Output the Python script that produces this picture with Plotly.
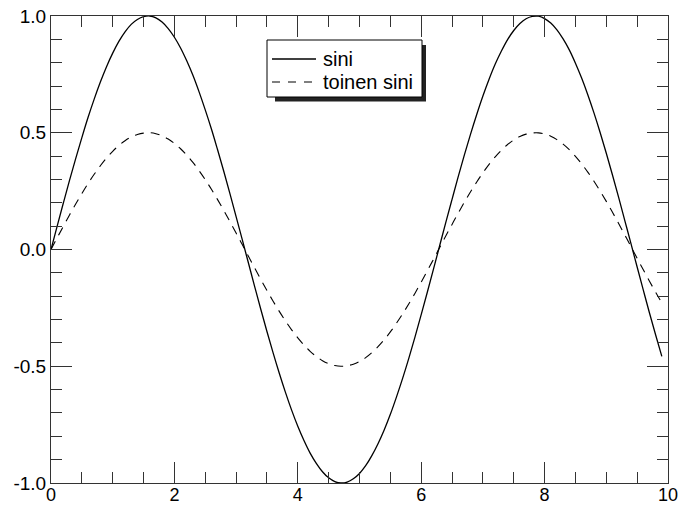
import plotly.graph_objects as go

x = [0.0, 0.1, 0.2, 0.3, 0.4, 0.5, 0.6, 0.7, 0.8, 0.9,
     1.0, 1.1, 1.2, 1.3, 1.4, 1.5, 1.6, 1.7, 1.8, 1.9,
     2.0, 2.1, 2.2, 2.3, 2.4, 2.5, 2.6, 2.7, 2.8, 2.9,
     3.0, 3.1, 3.2, 3.3, 3.4, 3.5, 3.6, 3.7, 3.8, 3.9,
     4.0, 4.1, 4.2, 4.3, 4.4, 4.5, 4.6, 4.7, 4.8, 4.9,
     5.0, 5.1, 5.2, 5.3, 5.4, 5.5, 5.6, 5.7, 5.8, 5.9,
     6.0, 6.1, 6.2, 6.3, 6.4, 6.5, 6.6, 6.7, 6.8, 6.9,
     7.0, 7.1, 7.2, 7.3, 7.4, 7.5, 7.6, 7.7, 7.8, 7.9,
     8.0, 8.1, 8.2, 8.3, 8.4, 8.5, 8.6, 8.7, 8.8, 8.9,
     9.0, 9.1, 9.2, 9.3, 9.4, 9.5, 9.6, 9.7, 9.8, 9.9]

sini = [0.000, 0.100, 0.199, 0.296, 0.389, 0.479, 0.565, 0.644, 0.717, 0.783,
        0.841, 0.891, 0.932, 0.964, 0.985, 0.997, 1.000, 0.992, 0.974, 0.946,
        0.909, 0.863, 0.808, 0.746, 0.675, 0.598, 0.516, 0.427, 0.335, 0.239,
        0.141, 0.042, -0.058, -0.158, -0.256, -0.351, -0.443, -0.530, -0.612, -0.688,
        -0.757, -0.818, -0.872, -0.916, -0.952, -0.978, -0.994, -1.000, -0.996, -0.982,
        -0.959, -0.926, -0.883, -0.832, -0.773, -0.706, -0.631, -0.551, -0.465, -0.374,
        -0.279, -0.182, -0.083, 0.017, 0.117, 0.215, 0.312, 0.405, 0.494, 0.578,
        0.657, 0.729, 0.794, 0.850, 0.899, 0.938, 0.968, 0.988, 0.998, 0.999,
        0.989, 0.970, 0.941, 0.902, 0.855, 0.798, 0.734, 0.663, 0.585, 0.501,
        0.412, 0.319, 0.223, 0.124, 0.025, -0.075, -0.174, -0.272, -0.366, -0.458]

toinen_sini = [0.000, 0.050, 0.0995, 0.148, 0.1945, 0.2395, 0.2825, 0.322, 0.3585, 0.3915,
               0.4205, 0.4455, 0.466, 0.482, 0.4925, 0.4985, 0.500, 0.496, 0.487, 0.473,
               0.4545, 0.4315, 0.404, 0.373, 0.3375, 0.299, 0.258, 0.2135, 0.1675, 0.1195,
               0.0705, 0.021, -0.029, -0.079, -0.128, -0.1755, -0.2215, -0.265, -0.306, -0.344,
               -0.3785, -0.409, -0.436, -0.458, -0.476, -0.489, -0.497, -0.500, -0.498, -0.491,
               -0.4795, -0.463, -0.4415, -0.416, -0.3865, -0.353, -0.3155, -0.2755, -0.2325, -0.187,
               -0.1395, -0.091, -0.0415, 0.0085, 0.0585, 0.1075, 0.156, 0.2025, 0.247, 0.289,
               0.3285, 0.3645, 0.397, 0.425, 0.4495, 0.469, 0.484, 0.494, 0.499, 0.4995,
               0.4945, 0.485, 0.4705, 0.451, 0.4275, 0.399, 0.367, 0.3315, 0.2925, 0.2505,
               0.206, 0.1595, 0.1115, 0.062, 0.0125, -0.0375, -0.087, -0.136, -0.183, -0.229]

names = ["sini", "toinen sini"]
y_ticks = [-1.0, -0.5, 0.0, 0.5, 1.0]
x_ticks = [0, 2, 4, 6, 8, 10]

FONT = "Liberation Sans, Arial, Helvetica, sans-serif"
SOLID = "solid"
DASHED = "9px,7px"

fig = go.Figure()
fig.add_trace(go.Scatter(x=x, y=sini, name=names[0], mode="lines", showlegend=False,
                         line=dict(color="black", width=1.3, shape="spline", dash=SOLID)))
fig.add_trace(go.Scatter(x=x, y=toinen_sini, name=names[1], mode="lines", showlegend=False,
                         line=dict(color="black", width=1.1, shape="spline", dash=DASHED)))

axis_common = dict(
    showline=True, linecolor="#333", linewidth=1, mirror="ticks",
    ticks="inside", ticklen=21, tickwidth=1, tickcolor="#333",
    showgrid=False, zeroline=False, automargin=False,
)

fig.update_xaxes(range=[0, 10], tickvals=x_ticks, ticktext=[str(v) for v in x_ticks],
                 tickfont=dict(family=FONT, size=18, color="black"), ticklabelstandoff=-5,
                 minor=dict(dtick=0.5, ticks="inside", ticklen=11, tickwidth=1, tickcolor="#333", showgrid=False),
                 **axis_common)
fig.update_yaxes(range=[-1, 1], tickvals=y_ticks, ticktext=[f"{v:.1f}" for v in y_ticks],
                 tickfont=dict(family=FONT, size=19, color="black"),
                 minor=dict(dtick=0.1, ticks="inside", ticklen=11, tickwidth=1, tickcolor="#333", showgrid=False),
                 **axis_common)

# ---- legend box drawn in paper coordinates (plot area spans 51..668 x 16..483 px)
def px(v):
    return (v - 51) / 617


def py(v):
    return (483 - v) / 467


# drop shadow
fig.add_shape(type="rect", xref="paper", yref="paper",
              x0=px(275), x1=px(426), y0=py(101.5), y1=py(45),
              fillcolor="#222", line=dict(width=0), layer="above")
# box
fig.add_shape(type="rect", xref="paper", yref="paper",
              x0=px(267), x1=px(422), y0=py(97), y1=py(40),
              fillcolor="white", line=dict(color="black", width=1), layer="above")
rows_y = [59, 82]
for name, dash, w, ry in zip(names, [SOLID, "8px,8px"], [1.3, 1.1], rows_y):
    fig.add_shape(type="line", xref="paper", yref="paper",
                  x0=px(272), x1=px(316), y0=py(ry), y1=py(ry),
                  line=dict(color="black", width=w, dash=dash), layer="above")
    fig.add_annotation(xref="paper", yref="paper", x=px(321), y=py(ry),
                       text=name, showarrow=False, xanchor="left", yanchor="middle",
                       font=dict(family=FONT, size=20, color="black"))

fig.update_layout(
    width=680, height=505,
    margin=dict(l=51, r=12, t=16, b=22),
    paper_bgcolor="white", plot_bgcolor="white",
    showlegend=False,
)

fig.write_html("out.html", config={"displayModeBar": False},
               post_script="document.body.style.margin='0';document.body.style.overflow='hidden';")
